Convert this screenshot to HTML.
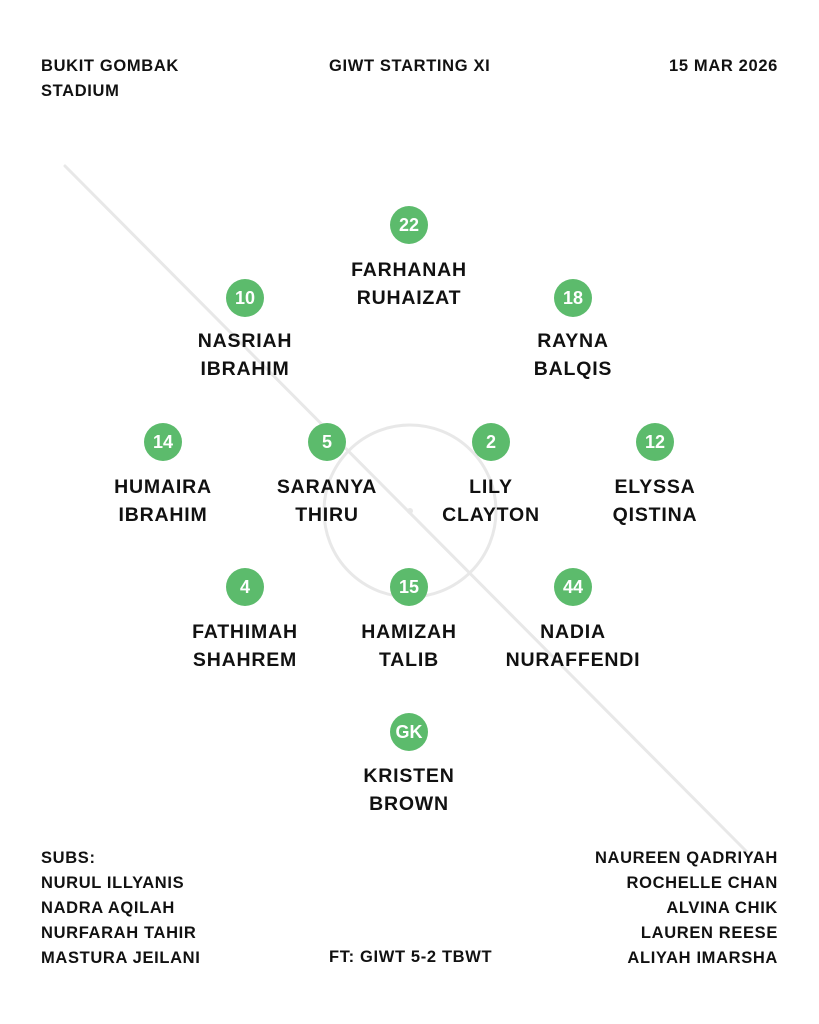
<!DOCTYPE html>
<html><head><meta charset="utf-8"><style>
body{margin:0;width:819px;height:1024px;background:#fff;position:relative;overflow:hidden;font-family:"Liberation Sans",Arial,sans-serif;font-weight:bold;color:#111}
.t{position:absolute;font-size:16.5px;line-height:25px;white-space:nowrap;letter-spacing:0.65px}
.c{position:absolute;width:38px;height:38px;border-radius:50%;background:#5cbb6c;color:#fff;font-size:18px;line-height:38px;text-align:center}
.n{position:absolute;width:200px;text-align:center;font-size:19.5px;line-height:28px;letter-spacing:0.8px}
</style></head><body>
<svg width="819" height="1024" style="position:absolute;left:0;top:0">
<line x1="65" y1="166" x2="746" y2="851" stroke="#e8e8e8" stroke-width="3" stroke-linecap="round"/>
<circle cx="410" cy="511" r="86" fill="none" stroke="#e8e8e8" stroke-width="3"/>
<circle cx="410" cy="511" r="3" fill="#e8e8e8"/>
</svg>
<div class="t" style="left:41px;top:54px">BUKIT GOMBAK<br>STADIUM</div>
<div class="t" style="left:329px;top:54px">GIWT STARTING XI</div>
<div class="t" style="right:41px;top:54px">15 MAR 2026</div>

<div class="c" style="left:390px;top:206px">22</div><div class="n" style="left:309px;top:256px">FARHANAH<br>RUHAIZAT</div>
<div class="c" style="left:226px;top:279px">10</div><div class="n" style="left:145px;top:327px">NASRIAH<br>IBRAHIM</div>
<div class="c" style="left:554px;top:279px">18</div><div class="n" style="left:473px;top:327px">RAYNA<br>BALQIS</div>
<div class="c" style="left:144px;top:423px">14</div><div class="n" style="left:63px;top:473px">HUMAIRA<br>IBRAHIM</div>
<div class="c" style="left:308px;top:423px">5</div><div class="n" style="left:227px;top:473px">SARANYA<br>THIRU</div>
<div class="c" style="left:472px;top:423px">2</div><div class="n" style="left:391px;top:473px">LILY<br>CLAYTON</div>
<div class="c" style="left:636px;top:423px">12</div><div class="n" style="left:555px;top:473px">ELYSSA<br>QISTINA</div>
<div class="c" style="left:226px;top:568px">4</div><div class="n" style="left:145px;top:618px">FATHIMAH<br>SHAHREM</div>
<div class="c" style="left:390px;top:568px">15</div><div class="n" style="left:309px;top:618px">HAMIZAH<br>TALIB</div>
<div class="c" style="left:554px;top:568px">44</div><div class="n" style="left:473px;top:618px">NADIA<br>NURAFFENDI</div>
<div class="c" style="left:390px;top:713px">GK</div><div class="n" style="left:309px;top:762px">KRISTEN<br>BROWN</div>

<div class="t" style="left:41px;top:846px">SUBS:<br>NURUL ILLYANIS<br>NADRA AQILAH<br>NURFARAH TAHIR<br>MASTURA JEILANI</div>
<div class="t" style="left:329px;top:945px">FT: GIWT 5-2 TBWT</div>
<div class="t" style="right:41px;top:846px;text-align:right">NAUREEN QADRIYAH<br>ROCHELLE CHAN<br>ALVINA CHIK<br>LAUREN REESE<br>ALIYAH IMARSHA</div>
</body></html>
